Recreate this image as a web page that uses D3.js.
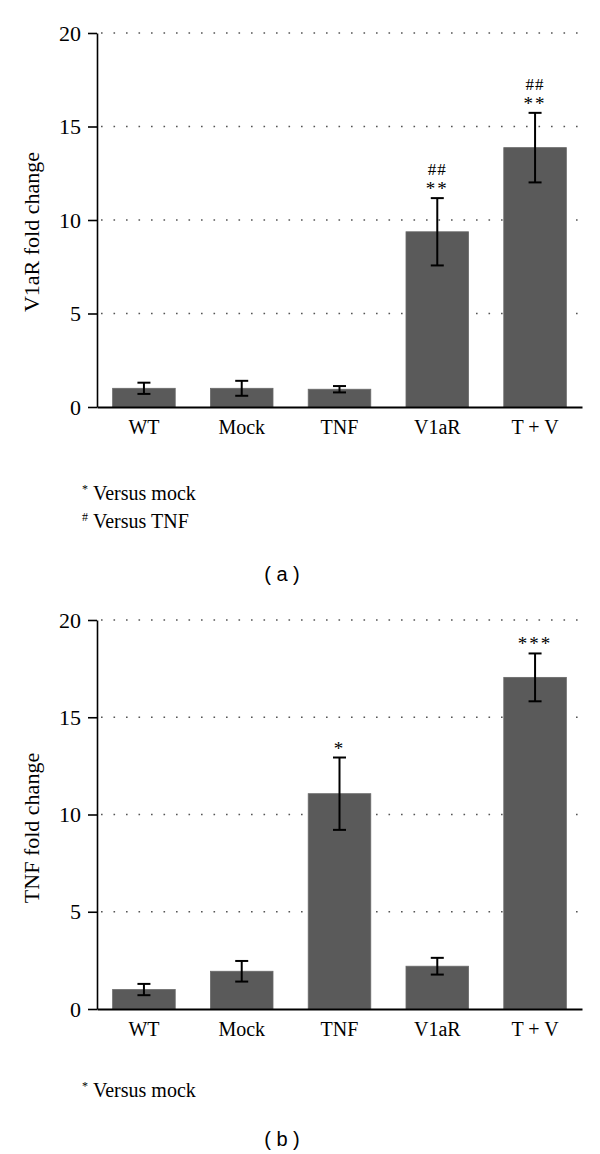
<!DOCTYPE html>
<html>
<head>
<meta charset="utf-8">
<script src="https://cdn.jsdelivr.net/npm/d3@7"></script>
<style>
  html, body { margin: 0; padding: 0; background: #fff; }
  svg { display: block; }
</style>
</head>
<body>
<svg id="chart" width="600" height="1154"></svg>
<script>
// ---- Data ----
const categories = ["WT", "Mock", "TNF", "V1aR", "T + V"];
const yTicks = [0, 5, 10, 15, 20];

const v1arMeans  = [1.0, 1.0, 0.95, 9.37, 13.87];
const v1arErrors = [0.3, 0.4, 0.17, 1.8, 1.86];
const v1arStars  = ["", "", "", "**", "**"];
const v1arHashes = ["", "", "", "##", "##"];

const tnfMeans  = [1.0, 1.94, 11.07, 2.2, 17.05];
const tnfErrors = [0.29, 0.53, 1.86, 0.43, 1.23];
const tnfStars  = ["", "", "*", "", "***"];
const tnfHashes = ["", "", "", "", ""];

// ---- Drawing ----
const svg = d3.select("#chart");
const serif = "'Liberation Serif', 'Times New Roman', serif";
const sans = "'Liberation Sans', Arial, sans-serif";
const barColor = "#5a5a5a";

function drawPanel(cfg) {
  const g = svg.append("g");
  const x = d3.scaleBand().domain(categories).range([97, 582]).paddingInner(0.36).paddingOuter(0.16);
  const y = d3.scaleLinear().domain([0, 20]).range([cfg.y0, cfg.y1]);

  // dotted grid
  g.append("g").selectAll("line").data(yTicks.filter(d => d > 0)).join("line")
    .attr("x1", 101).attr("x2", 582)
    .attr("y1", d => y(d)).attr("y2", d => y(d))
    .attr("stroke", "#555").attr("stroke-width", 1.6)
    .attr("stroke-dasharray", "1.6 10.9");

  // bars
  const data = categories.map((c, i) => ({c, m: cfg.means[i], e: cfg.errors[i], s: cfg.stars[i], h: cfg.hashes[i]}));
  g.append("g").selectAll("rect").data(data).join("rect")
    .attr("x", d => x(d.c)).attr("width", x.bandwidth())
    .attr("y", d => y(d.m)).attr("height", d => y(0) - y(d.m))
    .attr("fill", barColor).attr("stroke", "#6a6a6a").attr("stroke-width", 0.8);

  // error bars
  const eb = g.append("g").attr("stroke", "#000").attr("stroke-width", 2);
  const cx = d => x(d.c) + x.bandwidth() / 2;
  eb.selectAll(".v").data(data).join("line")
    .attr("x1", cx).attr("x2", cx)
    .attr("y1", d => y(d.m + d.e)).attr("y2", d => y(d.m - d.e));
  eb.selectAll(".t").data(data).join("line")
    .attr("x1", d => cx(d) - 6.5).attr("x2", d => cx(d) + 6.5)
    .attr("y1", d => y(d.m + d.e)).attr("y2", d => y(d.m + d.e));
  eb.selectAll(".b").data(data).join("line")
    .attr("x1", d => cx(d) - 6.5).attr("x2", d => cx(d) + 6.5)
    .attr("y1", d => y(d.m - d.e)).attr("y2", d => y(d.m - d.e));

  // significance marks
  const sig = g.append("g").attr("font-family", serif).attr("text-anchor", "middle");
  sig.selectAll(".star").data(data.filter(d => d.s)).join("text")
    .attr("x", cx).attr("y", d => y(d.m + d.e) - 3)
    .attr("font-size", 19).attr("letter-spacing", 2)
    .text(d => d.s);
  sig.selectAll(".hash").data(data.filter(d => d.h)).join("text")
    .attr("x", cx).attr("y", d => y(d.m + d.e) - 23)
    .attr("font-size", 17).attr("letter-spacing", 1)
    .text(d => d.h);

  // y axis
  const ya = g.append("g").attr("transform", "translate(97,0)")
    .call(d3.axisLeft(y).tickValues(yTicks).tickSize(9).tickSizeOuter(0).tickPadding(7));
  ya.select(".domain").attr("stroke", "#000").attr("stroke-width", 1.6);
  ya.selectAll(".tick line").attr("stroke", "#000").attr("stroke-width", 1.6);
  ya.selectAll(".tick text").attr("font-family", serif).attr("font-size", 22).attr("fill", "#000");

  // x axis
  const xa = g.append("g").attr("transform", `translate(0,${cfg.y0})`)
    .call(d3.axisBottom(x).tickSize(0).tickSizeOuter(0).tickPadding(13));
  xa.select(".domain").attr("stroke", "#000").attr("stroke-width", 1.8);
  xa.selectAll(".tick text").attr("font-family", serif).attr("font-size", 20).attr("fill", "#000");

  // y label
  g.append("text")
    .attr("transform", `translate(39,${cfg.labelY}) rotate(-90)`)
    .attr("text-anchor", "middle").attr("font-family", serif).attr("font-size", 22)
    .text(cfg.yLabel);

  // legend
  cfg.legend.forEach((l, i) => {
    const t = g.append("text").attr("x", 82).attr("y", cfg.legendY + i * 28)
      .attr("font-family", serif).attr("font-size", 20);
    t.append("tspan").attr("font-size", 12).attr("dy", -7).text(l[0]);
    t.append("tspan").attr("x", 93).attr("dy", 7).text(l[1]);
  });

  // panel label
  g.append("text").attr("x", 282).attr("y", cfg.panelY)
    .attr("text-anchor", "middle").attr("font-family", sans).attr("font-size", 20)
    .attr("xml:space", "preserve")
    .text(cfg.panel);
}

drawPanel({
  y0: 407, y1: 33, means: v1arMeans, errors: v1arErrors, stars: v1arStars, hashes: v1arHashes,
  yLabel: "V1aR fold change", labelY: 232,
  legend: [["*", "Versus mock"], ["#", "Versus TNF"]], legendY: 500,
  panel: "( a )", panelY: 581
});
drawPanel({
  y0: 1009, y1: 620, means: tnfMeans, errors: tnfErrors, stars: tnfStars, hashes: tnfHashes,
  yLabel: "TNF fold change", labelY: 828,
  legend: [["*", "Versus mock"]], legendY: 1097,
  panel: "( b )", panelY: 1146
});
</script>
</body>
</html>
